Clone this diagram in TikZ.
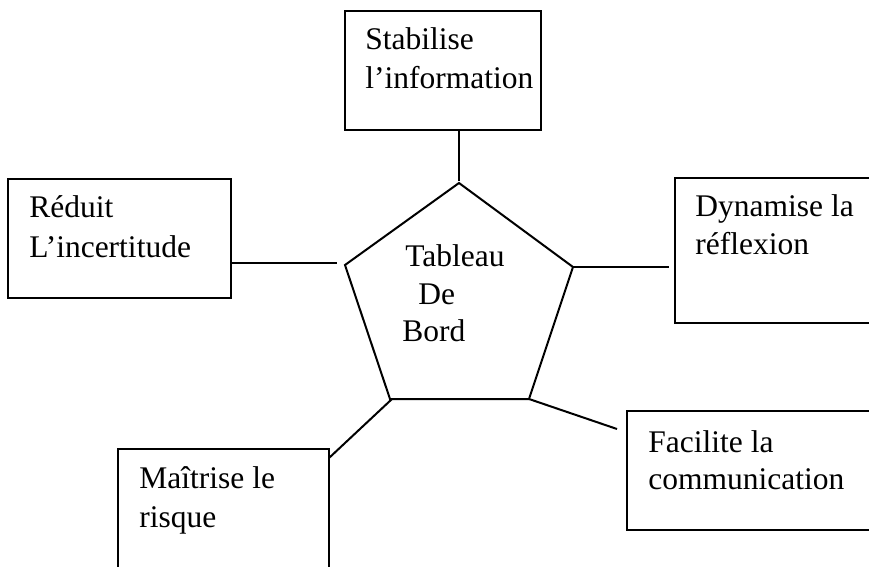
\documentclass[tikz,border=0pt]{standalone}
\usepackage{fontspec}
\setmainfont{Liberation Serif}
\begin{document}
\begin{tikzpicture}[x={(0.5pt,0)}, y={(0,-0.5pt)},
  box/.style={draw, line width=1pt, inner sep=0pt, outer sep=0pt},
  link/.style={line width=1pt},
  txt/.style={anchor=base west, inner sep=0pt, font=\fontsize{15.75}{19}\selectfont}]
\useasboundingbox (0,0) rectangle (869,567);
\clip (0,0) rectangle (869,567);

% surrounding boxes
\node[box, minimum width=98pt,   minimum height=59.5pt] (stab) at (443,70.5) {};
\node[box, minimum width=111.5pt, minimum height=59.5pt] (redu) at (119.5,238.5) {};
\node[box, minimum width=112.5pt, minimum height=72.5pt] (dyna) at (787.5,250.5) {};
\node[box, minimum width=136.5pt, minimum height=59.5pt] (faci) at (763.5,470.5) {};
\node[box, minimum width=105.5pt, minimum height=75.5pt] (mait) at (223.5,524.5) {};

% box texts
\node[txt] (stab1) at (365,50) {Stabilise};
\node[txt] (stab2) at (365,89) {l’information};
\node[txt] (redu1) at (29,218) {Réduit};
\node[txt] (redu2) at (29,257) {L’incertitude};
\node[txt] (dyna1) at (695,217) {Dynamise la};
\node[txt] (dyna2) at (695,255) {réflexion};
\node[txt] (faci1) at (648,452) {Facilite la};
\node[txt] (faci2) at (648,489) {communication};
\node[txt] (mait1) at (139,488) {Maîtrise le};
\node[txt] (mait2) at (139,527) {risque};

% central pentagon
\coordinate (pT)  at (459,183);
\coordinate (pR)  at (573,267);
\coordinate (pBR) at (529,399);
\coordinate (pBL) at (390,399);
\coordinate (pL)  at (345,265);
\draw[link, line join=miter] (pT) -- (pR) -- (pBR) -- (pBL) -- (pL) -- cycle;
\node[txt] (tab1) at (405,267) {Tableau};
\node[txt] (tab2) at (418,305) {De};
\node[txt] (tab3) at (402,342) {Bord};

% connector ends
\coordinate (cT) at (459,181);
\coordinate (cL) at (337,263);
\coordinate (cR) at (669,267);
\coordinate (cF) at (617,429);
\coordinate (cM) at (329,458);
\coordinate (cB) at (392,399);

% connectors
\draw[link] (stab.south -| cT) -- (cT);
\draw[link] (redu.east |- cL) -- (cL);
\draw[link] (pR) -- (cR);
\draw[link] (pBR) -- (cF);
\draw[link] (cM) -- (cB);
\end{tikzpicture}
\end{document}
